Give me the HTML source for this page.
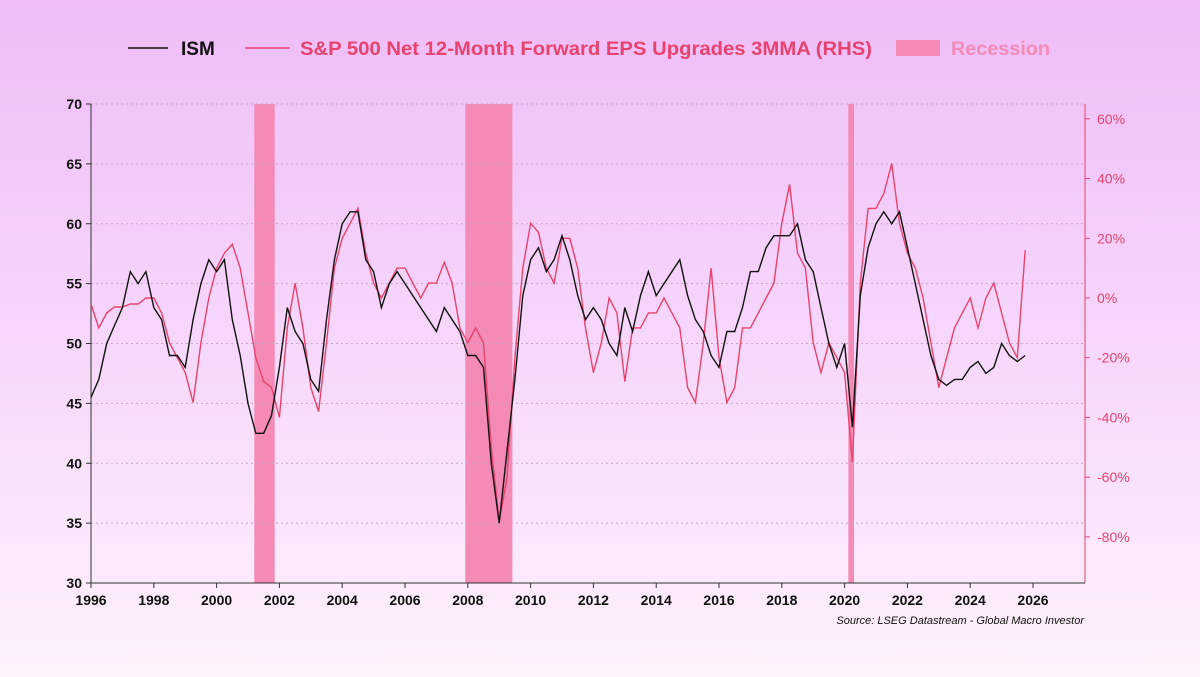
<!DOCTYPE html>
<html><head><meta charset="utf-8"><style>
body{margin:0;width:1200px;height:677px;overflow:hidden;font-family:"Liberation Sans",sans-serif;}
svg{display:block}
</style></head><body>
<svg id="chart" width="1200" height="677" viewBox="0 0 1200 677" xmlns="http://www.w3.org/2000/svg">
<defs><linearGradient id="bg" x1="0" y1="0" x2="0" y2="1"><stop offset="0" stop-color="#efbcf8"/><stop offset="1" stop-color="#fdf2fc"/></linearGradient></defs>
<rect x="0" y="0" width="1200" height="677" fill="url(#bg)"/>
<g id="legend">
<g><line x1="128" y1="48" x2="168" y2="48" stroke="#111" stroke-width="1.5"/><text x="181" y="55" font-size="19" font-weight="bold" fill="#111">ISM</text></g>
<g><line x1="245" y1="48" x2="290" y2="48" stroke="#e8436f" stroke-width="1.5"/><text x="300" y="55" font-size="19" font-weight="bold" fill="#e8436f" textLength="572" lengthAdjust="spacingAndGlyphs">S&amp;P 500 Net 12-Month Forward EPS Upgrades 3MMA (RHS)</text></g>
<g><rect x="896" y="40" width="44" height="16" fill="#f48ab6"/><text x="951" y="55" font-size="19" font-weight="bold" fill="#f48ab6" textLength="99" lengthAdjust="spacingAndGlyphs">Recession</text></g>
</g>
<g id="plot"></g>
<text x="1084" y="624" font-size="11" font-style="italic" text-anchor="end" fill="#111">Source: LSEG Datastream - Global Macro Investor</text>
</svg>
<script>
const recStart=[2001.2,2007.92,2020.12];
const recEnd=[2001.85,2009.42,2020.3];
const leftTicks=[30,35,40,45,50,55,60,65,70];
const rightTicks=[60,40,20,0,-20,-40,-60,-80];
const xTicks=[1996,1998,2000,2002,2004,2006,2008,2010,2012,2014,2016,2018,2020,2022,2024,2026];
const ismValues=[45.5,47,50,51.5,53,56,55,56,53,52,49,49,48,52,55,57,56,57,52,49,45,42.5,42.5,44,48,53,51,50,47,46,52,57,60,61,61,57,56,53,55,56,55,54,53,52,51,53,52,51,49,49,48,40,35,41,47,54,57,58,56,57,59,57,54,52,53,52,50,49,53,51,54,56,54,55,56,57,54,52,51,49,48,51,51,53,56,56,58,59,59,59,60,57,56,53,50,48,50,43,54,58,60,61,60,61,58,55,52,49,47,46.5,47,47,48,48.5,47.5,48,50,49,48.5,49];
const epsValues=[-2,-10,-5,-3,-3,-2,-2,0,0,-5,-15,-20,-25,-35,-15,0,10,15,18,10,-5,-20,-28,-30,-40,-10,5,-10,-30,-38,-15,10,20,25,30,15,5,0,5,10,10,5,0,5,5,12,5,-10,-15,-10,-15,-50,-75,-60,-20,10,25,22,10,5,20,20,10,-10,-25,-15,0,-5,-28,-10,-10,-5,-5,0,-5,-10,-30,-35,-15,10,-20,-35,-30,-10,-10,-5,0,5,25,38,15,10,-15,-25,-15,-20,-25,-55,5,30,30,35,45,25,15,10,0,-15,-30,-20,-10,-5,0,-10,0,5,-5,-15,-20,16];
const X0=91,X1=1085,YT=104,YB=583;
const xs=t=>X0+(t-1996)*31.4;
const yl=v=>YB-(v-30)*(YB-YT)/40;
const yr=p=>298-p*2.986;
const NS="http://www.w3.org/2000/svg";
const plot=document.getElementById('plot');
function mk(tag,attrs,parent){const e=document.createElementNS(NS,tag);for(const k in attrs)e.setAttribute(k,attrs[k]);(parent||plot).appendChild(e);return e;}
recStart.forEach((s,i)=>{const r=mk('rect',{x:xs(s),y:YT,width:xs(recEnd[i])-xs(s),height:YB-YT,fill:'#f48ab6'});

});
leftTicks.forEach(v=>{if(v>30){const g=mk('line',{x1:X0,x2:X1,y1:yl(v),y2:yl(v),stroke:'#c9a3cc','stroke-dasharray':'2 3','stroke-width':1});

}
const t=mk('text',{x:X0-9,y:yl(v)+5,'font-size':14,'font-weight':'bold','text-anchor':'end',fill:'#111'});t.textContent=v;


mk('line',{x1:X0-5,x2:X0,y1:yl(v),y2:yl(v),stroke:'#333'});});
rightTicks.forEach(p=>{mk('line',{x1:X1,x2:X1+5,y1:yr(p),y2:yr(p),stroke:'#e8436f'});
const t=mk('text',{x:X1+12,y:yr(p)+5,'font-size':14,fill:'#e8436f'});t.textContent=p+'%';

});
xTicks.forEach(y=>{mk('line',{x1:xs(y),x2:xs(y),y1:YB,y2:YB+5,stroke:'#333'});
const t=mk('text',{x:xs(y),y:YB+22,'font-size':14,'font-weight':'bold','text-anchor':'middle',fill:'#111'});t.textContent=y;

});
const la=mk('line',{x1:X0,x2:X0,y1:YT,y2:YB,stroke:'#333'});


const ra=mk('line',{x1:X1,x2:X1,y1:YT,y2:YB,stroke:'#e8436f'});


const xa=mk('line',{x1:X0,x2:X1,y1:YB,y2:YB,stroke:'#333'});


const ep=mk('path',{d:epsValues.map((v,i)=>(i?'L':'M')+xs(1996+i/4).toFixed(1)+','+yr(v).toFixed(1)).join(''),fill:'none',stroke:'#e8436f','stroke-width':1.4});


const ip=mk('path',{d:ismValues.map((v,i)=>(i?'L':'M')+xs(1996+i/4).toFixed(1)+','+yl(v).toFixed(1)).join(''),fill:'none',stroke:'#111','stroke-width':1.4});


</script>
</body></html>
